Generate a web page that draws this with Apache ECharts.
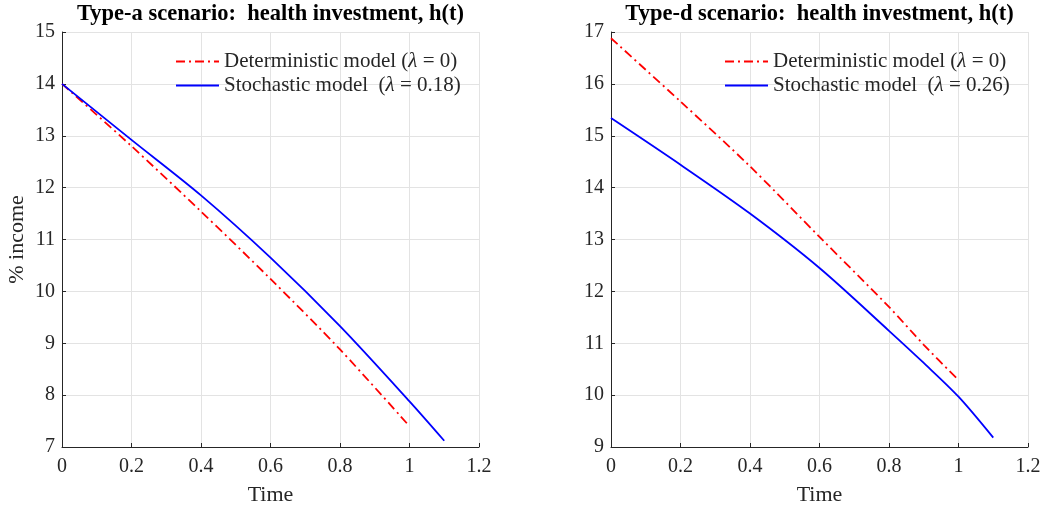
<!DOCTYPE html>
<html>
<head>
<meta charset="utf-8">
<script src="https://cdn.jsdelivr.net/npm/echarts@6/dist/echarts.min.js"></script>
<style>
  html, body { margin: 0; padding: 0; background: #fff; }
  #chart { width: 1042px; height: 508px; }
</style>
</head>
<body>
<div id="chart"></div>
<script>
// values
const timeA = [0, 0.2, 0.4, 0.6, 0.8, 1.0, 1.1];
const detA = [14.0, 12.80, 11.54, 10.24, 8.88, 7.40];
const stoA = [14.0, 12.92, 11.85, 10.65, 9.33, 7.88, 7.12];

const timeD = [0, 0.2, 0.4, 0.6, 0.8, 0.9, 1.0, 1.1];
const detD = [16.88, 15.66, 14.41, 13.05, 11.70, 10.97, 10.29];
const stoD = [15.34, 14.44, 13.50, 12.45, 11.24, 10.62, 9.97, 9.18];

const titles = ['Type-a scenario:  health investment, h(t)', 'Type-d scenario:  health investment, h(t)'];
const detNames = ['Deterministic model (λ = 0)', 'Deterministic model (λ = 0) '];
const stoNames = ['Stochastic model  (λ = 0.18)', 'Stochastic model  (λ = 0.26)'];
const yRanges = [[7, 15], [9, 17]];

const FONT = '"Liberation Serif", "DejaVu Serif", serif';
const INK = '#262626';

function pairs(ts, vs) {
  return vs.map((v, i) => [ts[i], v]);
}

const grids = [
  { left: 62, top: 32, width: 417, height: 415, outerBoundsMode: 'none', containLabel: false },
  { left: 611, top: 32, width: 417, height: 415, outerBoundsMode: 'none', containLabel: false }
];

const xAxes = grids.map((g, i) => ({
  type: 'value',
  gridIndex: i,
  min: 0, max: 1.2, interval: 0.2,
  name: 'Time',
  nameLocation: 'middle',
  nameGap: 37,
  nameTextStyle: { fontFamily: FONT, fontSize: 22, color: INK },
  axisLine: { show: true, lineStyle: { color: INK, width: 1 } },
  axisTick: { show: true, inside: true, length: 4, lineStyle: { color: INK } },
  axisLabel: { fontFamily: FONT, fontSize: 20, color: INK, margin: 10 },
  splitLine: { show: true, lineStyle: { color: '#e3e3e3', width: 1 } }
}));

const yAxes = grids.map((g, i) => ({
  type: 'value',
  gridIndex: i,
  min: yRanges[i][0], max: yRanges[i][1], interval: 1,
  name: i === 0 ? '% income' : '',
  nameLocation: 'middle',
  nameGap: 34,
  nameTextStyle: { fontFamily: FONT, fontSize: 22, color: INK },
  axisLine: { show: true, lineStyle: { color: INK, width: 1 } },
  axisTick: { show: true, inside: true, length: 4, lineStyle: { color: INK } },
  axisLabel: { fontFamily: FONT, fontSize: 20, color: INK, margin: 7 },
  splitLine: { show: true, lineStyle: { color: '#e3e3e3', width: 1 } }
}));

const legendRich = { i: { fontFamily: FONT, fontSize: 21, color: INK, fontStyle: 'italic' } };

const chart = echarts.init(document.getElementById('chart'), null, { renderer: 'canvas' });
chart.setOption({
  backgroundColor: '#fff',
  animation: false,
  title: titles.map((t, i) => ({
    text: t,
    left: grids[i].left + grids[i].width / 2,
    textAlign: 'center',
    top: 3,
    padding: 0,
    textStyle: { fontFamily: FONT, fontSize: 22.5, fontWeight: 'bold', color: '#000' }
  })),
  legend: [0, 1].map(i => ({
    data: [detNames[i], stoNames[i]],
    orient: 'vertical',
    align: 'left',
    left: i === 0 ? 175 : 724,
    top: 51,
    itemWidth: 43,
    itemHeight: 10,
    itemGap: 3,
    padding: 0,
    itemStyle: { opacity: 0 },
    textStyle: { fontFamily: FONT, fontSize: 21, color: INK, rich: legendRich },
    formatter: n => n.trim().replace('λ', '{i|λ}')
  })),
  grid: grids,
  xAxis: xAxes,
  yAxis: yAxes,
  series: [
    {
      name: detNames[0], type: 'line', xAxisIndex: 0, yAxisIndex: 0,
      data: pairs(timeA, detA), smooth: 0.3, symbol: 'none',
      lineStyle: { color: '#ff0000', width: 1.8, type: [9, 4, 2, 4] }, itemStyle: { color: '#ff0000' }
    },
    {
      name: stoNames[0], type: 'line', xAxisIndex: 0, yAxisIndex: 0,
      data: pairs(timeA, stoA), smooth: 0.3, symbol: 'none',
      lineStyle: { color: '#0000ff', width: 1.8 }, itemStyle: { color: '#0000ff' }
    },
    {
      name: detNames[1], type: 'line', xAxisIndex: 1, yAxisIndex: 1,
      data: pairs(timeD, detD), smooth: 0.3, symbol: 'none',
      lineStyle: { color: '#ff0000', width: 1.8, type: [9, 4, 2, 4] }, itemStyle: { color: '#ff0000' }
    },
    {
      name: stoNames[1], type: 'line', xAxisIndex: 1, yAxisIndex: 1,
      data: pairs(timeD, stoD), smooth: 0.3, symbol: 'none',
      lineStyle: { color: '#0000ff', width: 1.8 }, itemStyle: { color: '#0000ff' }
    }
  ]
});
</script>
</body>
</html>
